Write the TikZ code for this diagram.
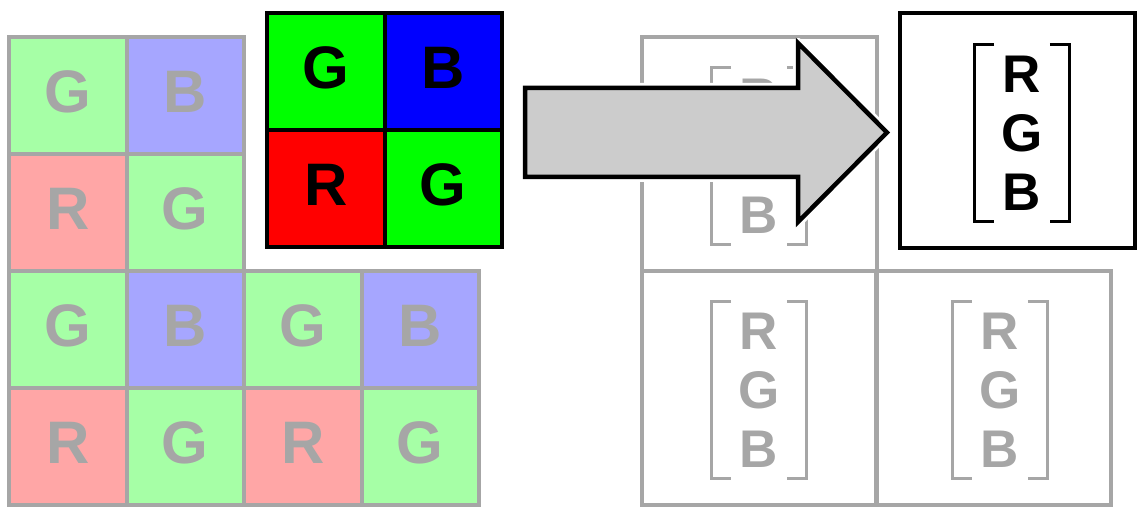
\documentclass[tikz,border=0pt]{standalone}
\usepackage{fontspec}
\setmainfont{Liberation Sans}
\usetikzlibrary{calc}

\definecolor{lgray}{HTML}{A6A6A6}
\definecolor{lgreen}{HTML}{A6FFA6}
\definecolor{lblue}{HTML}{A6A6FF}
\definecolor{lred}{HTML}{FFA6A6}
\definecolor{bgreen}{HTML}{00FF00}
\definecolor{bblue}{HTML}{0000FF}
\definecolor{bred}{HTML}{FF0000}
\definecolor{arrowgray}{HTML}{CCCCCC}

% square brackets round a vector node
\newcommand{\vecbrackets}[2]{%
  \draw[#2, line width=3pt] ([xshift=20pt]#1.north west) -| (#1.south west) -- ++(20pt,0);
  \draw[#2, line width=3pt] ([xshift=-20pt]#1.north east) -| (#1.south east) -- ++(-20pt,0);
}

\begin{document}
\begin{tikzpicture}[x=1pt, y=-1pt,
    cell/.style={draw=lgray, line width=4pt, minimum width=117.5pt, minimum height=117pt,
      inner sep=0pt, text depth=8pt, text=lgray, font=\fontsize{60}{60}\selectfont\bfseries},
    hotcell/.style={cell, draw=black, text=black},
    pixel/.style={draw=lgray, line width=4pt, minimum width=235pt, minimum height=234pt, inner sep=0pt},
    rgbvec/.style={align=center, inner xsep=27pt, inner ysep=11pt,
      font=\fontsize{53}{59}\selectfont\bfseries}]
    \useasboundingbox (0,0) rectangle (1140,510);

    % raw Bayer mosaic (faded)
    \foreach \x/\y/\lbl/\clr [count=\n] in {
        0/0/G/lgreen, 1/0/B/lblue,
        0/1/R/lred,   1/1/G/lgreen,
        0/2/G/lgreen, 1/2/B/lblue, 2/2/G/lgreen, 3/2/B/lblue,
        0/3/R/lred,   1/3/G/lgreen, 2/3/R/lred,   3/3/G/lgreen}
      \node[cell, fill=\clr] (m\n) at ({67.75+117.5*\x}, {95.5+117*\y}) {\lbl};

    % highlighted 2x2 block
    \foreach \x/\y/\lbl/\clr [count=\n] in {0/0/G/bgreen, 1/0/B/bblue, 0/1/R/bred, 1/1/G/bgreen}
      \node[hotcell, fill=\clr] (h\n) at ({325.75+117.5*\x}, {71.5+117*\y}) {\lbl};

    % output pixels (faded)
    \node[pixel] (p1) at (759.5,154) {};
    \node[pixel] (p2) at (759.5,388) {};
    \node[pixel] (p3) at (993.5,388) {};
    \node[rgbvec, text=lgray] (v1) at (759,156) {R\\G\\B};
    \node[rgbvec, text=lgray] (v2) at (759,390) {R\\G\\B};
    \node[rgbvec, text=lgray] (v3) at (1000,390) {R\\G\\B};
    \vecbrackets{v1}{lgray}
    \vecbrackets{v2}{lgray}
    \vecbrackets{v3}{lgray}

    % highlighted output pixel
    \node[pixel, draw=black, fill=white, minimum height=235pt] (q) at (1017.5,130.5) {};
    \node[rgbvec] (v4) at (1022,133) {R\\G\\B};
    \vecbrackets{v4}{black}

    % big arrow
    \coordinate (a0) at (525,88);
    \coordinate (a1) at (798,88);
    \coordinate (a2) at (798,43);
    \coordinate (tip) at (887,132.5);
    \coordinate (a3) at (798,222);
    \coordinate (a4) at (798,177);
    \coordinate (a5) at (525,177);
    \draw[white, line width=10pt, line join=round] (a0) -- (a1) -- (a2) -- (tip) -- (a3) -- (a4) -- (a5) -- cycle;
    \draw[fill=arrowgray, line width=4.5pt] (a0) -- (a1) -- (a2) -- (tip) -- (a3) -- (a4) -- (a5) -- cycle;
\end{tikzpicture}
\end{document}
